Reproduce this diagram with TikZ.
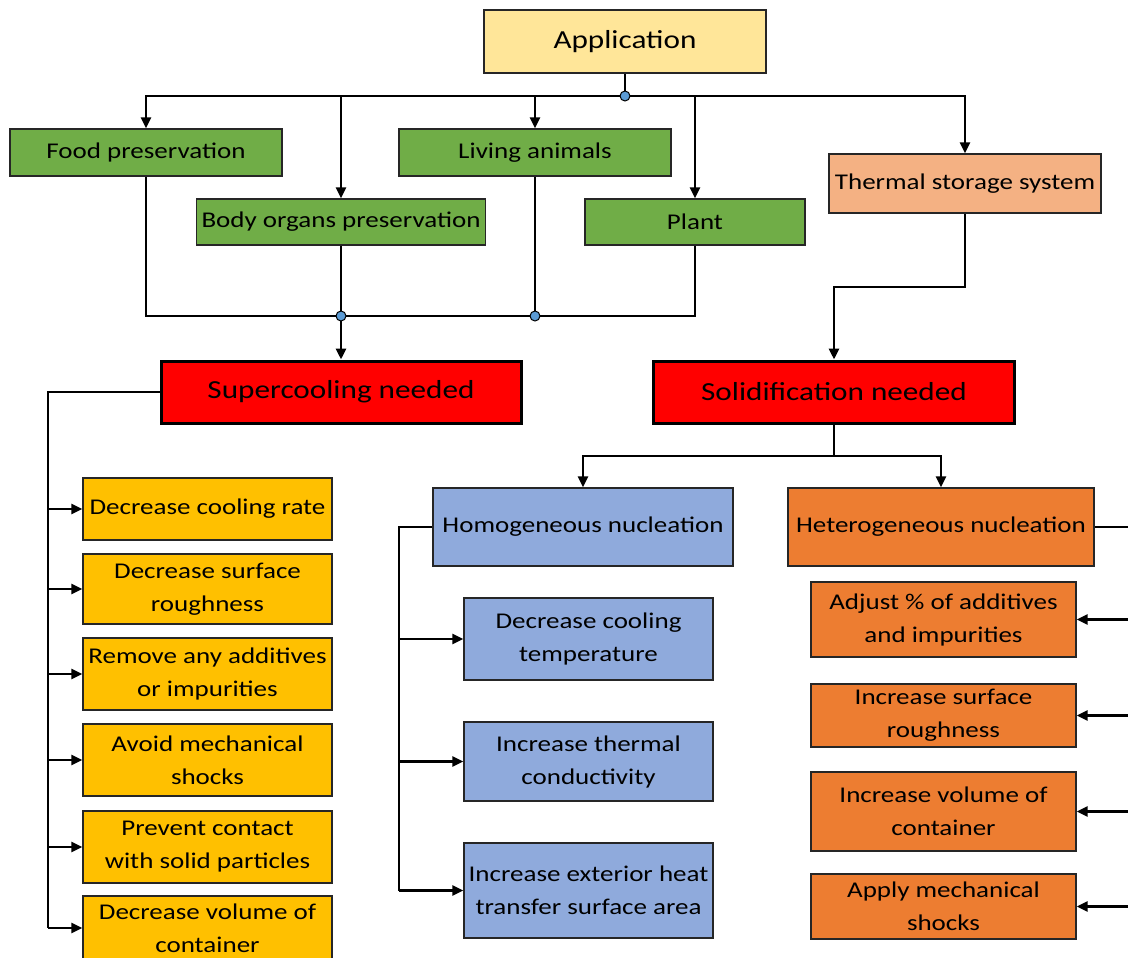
\documentclass[tikz,border=0pt]{standalone}
\usepackage{fontspec}
\setmainfont{Carlito}[FakeStretch=1.2]
\usetikzlibrary{arrows.meta}
\definecolor{appy}{HTML}{FFE699}
\definecolor{grn}{HTML}{70AD47}
\definecolor{therm}{HTML}{F4B183}
\definecolor{redb}{HTML}{FF0000}
\definecolor{yel}{HTML}{FFC000}
\definecolor{blu}{HTML}{8FAADC}
\definecolor{org}{HTML}{ED7D31}
\definecolor{dotb}{HTML}{5B9BD5}
\begin{document}
\begin{tikzpicture}[x=1pt,y=-1pt,
  box/.style={draw=black!85, line width=1.4pt, inner sep=1pt, align=center, text=black,
    font=\fontsize{22.5}{33}\selectfont},
  sz/.style 2 args={minimum width=#1pt, minimum height=#2pt},
  bigbox/.style={box, draw=black, line width=3pt, fill=redb, font=\fontsize{26}{30}\selectfont},
  conn/.style={line width=2.8pt, draw=black},
  arr/.style={conn, -{Triangle[length=11pt,width=10pt]}},
  dot/.style={circle, fill=dotb, draw=black, line width=1pt, minimum size=10pt, inner sep=0pt}
]
\useasboundingbox (0,0) rectangle (1128,958);

% top level
\node[box, sz={282}{63}, fill=appy, font=\fontsize{26}{30}\selectfont] (app) at (625,41.5) {Application};
\node[box, sz={272}{47}, fill=grn] (food) at (146,152.5) {Food preservation};
\node[box, sz={272}{47}, fill=grn] (living) at (535,152.5) {Living animals};
\node[box, sz={289}{46}, fill=grn] (body) at (341,222) {Body organs preservation};
\node[box, sz={220}{46}, fill=grn] (plant) at (695,222) {Plant};
\node[box, sz={272}{59}, fill=therm] (thermal) at (965,183.5) {Thermal storage system};

\node[bigbox, sz={360}{62}] (super) at (341,392) {Supercooling needed};
\node[bigbox, sz={361}{62}] (solid) at (834,392) {Solidification needed};

\node[box, sz={300}{78}, fill=blu] (homo) at (583,527) {Homogeneous nucleation};
\node[box, sz={306}{78}, fill=org] (hetero) at (941,527) {Heterogeneous nucleation};

% supercooling list
\node[box, sz={249}{62}, fill=yel] (y1) at (207.5,509) {Decrease cooling rate};
\node[box, sz={249}{70}, fill=yel] (y2) at (207.5,589) {Decrease surface\\roughness};
\node[box, sz={249}{72}, fill=yel] (y3) at (207.5,674) {Remove any additives\\or impurities};
\node[box, sz={249}{72}, fill=yel] (y4) at (207.5,760) {Avoid mechanical\\shocks};
\node[box, sz={249}{72}, fill=yel] (y5) at (207.5,847) {Prevent contact\\with solid particles};
\node[box, sz={249}{64}, fill=yel] (y6) at (207.5,928) {Decrease volume of\\container};

% homogeneous list
\node[box, sz={249}{82}, fill=blu] (b1) at (588.5,639) {Decrease cooling\\temperature};
\node[box, sz={249}{79}, fill=blu] (b2) at (588.5,761.5) {Increase thermal\\conductivity};
\node[box, sz={249}{95}, fill=blu] (b3) at (588.5,890.5) {Increase exterior heat\\transfer surface area};

% heterogeneous list
\node[box, sz={265}{75}, fill=org] (o1) at (943.5,619.5) {Adjust \% of additives\\and impurities};
\node[box, sz={265}{63}, fill=org] (o2) at (943.5,715.5) {Increase surface\\roughness};
\node[box, sz={265}{79}, fill=org] (o3) at (943.5,811.5) {Increase volume of\\container};
\node[box, sz={265}{65}, fill=org] (o4) at (943.5,906.5) {Apply mechanical\\shocks};

% junction coordinates
\coordinate (j1) at (625,96);
\coordinate (jl) at (147,96);
\coordinate (jr) at (966,96);
\coordinate (m1) at (341,316);
\coordinate (m2) at (535,316);
\coordinate (t1) at (834,287);
\coordinate (s1) at (834,456);
\coordinate (sl) at (48,392);
\coordinate (hl) at (399,527);
\coordinate (hr) at (1140,527);

% top connectors
\draw[conn] (app.south) -- (j1);
\draw[conn] (jl) -- (jr);
\draw[arr] (j1) -| (food.north);
\draw[arr] (j1) -| (body.north);
\draw[arr] (j1) -| (living.north);
\draw[arr] (j1) -| (plant.north);
\draw[arr] (j1) -| (thermal.north);

% merge to supercooling
\draw[conn] (food.south) |- (m1);
\draw[conn] (body.south) -- (m1);
\draw[conn] (living.south) -- (m2);
\draw[conn] (plant.south) |- (m2);
\draw[conn] (m1) -- (m2);
\draw[arr] (m1) -- (super.north);

% thermal to solidification
\draw[arr] (thermal.south) |- (t1) -- (solid.north);

% solidification split
\draw[conn] (solid.south) -- (s1);
\draw[arr] (s1) -| (homo.north);
\draw[arr] (s1) -| (hetero.north);

% supercooling list
\draw[conn] (super.west) -- (sl) -- (sl |- y6.west);
\foreach \n in {y1,y2,y3,y4,y5,y6} \draw[arr] (sl |- \n.west) -- (\n.west);

% homogeneous list
\draw[conn] (homo.west) -- (hl) -- (hl |- b3.west);
\foreach \n in {b1,b2,b3} \draw[arr] (hl |- \n.west) -- (\n.west);

% heterogeneous list
\draw[conn] (hetero.east) -- (hr) -- (hr |- o4.east);
\foreach \n in {o1,o2,o3,o4} \draw[arr] (hr |- \n.east) -- (\n.east);

% dots
\node[dot] (dj1) at (j1) {};
\node[dot] (dm1) at (m1) {};
\node[dot] (dm2) at (m2) {};
\end{tikzpicture}
\end{document}
